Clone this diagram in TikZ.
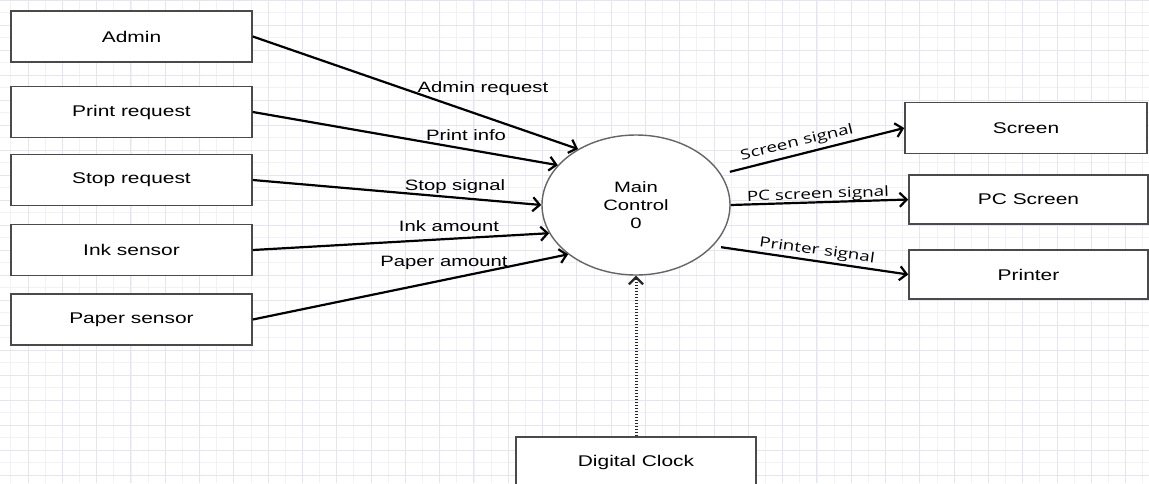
\documentclass[tikz,border=0pt]{standalone}
\usepackage{fontspec}
\setmainfont{Liberation Sans}[FakeStretch=1.35]
\newfontfamily\osans{Open Sans}[FakeStretch=1.35]
\usetikzlibrary{arrows.meta,shapes.geometric}
\definecolor{boxgray}{HTML}{4A4A4A}
\definecolor{gridmajor}{HTML}{E4E4F3}
\definecolor{gridminor}{HTML}{F1F1F9}
\begin{document}
\begin{tikzpicture}[x=1pt,y=-1pt,
  box/.style={draw=boxgray, line width=1.6pt, fill=white, minimum width=241pt, minimum height=51pt, inner sep=0pt, font=\fontsize{15.5}{18}\selectfont},
  flow/.style={draw=black, line width=2.2pt, -{Straight Barb[length=7pt,width=14pt]}},
  lbl/.style={font=\fontsize{15}{18}\selectfont, inner sep=0pt},
  rlbl/.style={font=\osans\fontsize{14}{17}\selectfont, inner sep=0pt}]
\fill[white] (0,0) rectangle (1149,483);
\useasboundingbox (0,0) rectangle (1149,483);
% grid
\foreach \i in {0,...,66} \draw[gridminor, line width=0.8pt] ({10.85+17.15*\i},0) -- ++(0,483);
\foreach \j in {0,...,38} \draw[gridminor, line width=0.8pt] (0,{12.5*\j}) -- ++(1149,0);
\foreach \i in {0,...,33} \draw[gridmajor, line width=1pt] ({28+34.3*\i},0) -- ++(0,483);
\foreach \j in {0,...,19} \draw[gridmajor, line width=1pt] (0,{25*\j}) -- ++(1149,0);
% nodes
\node[box] (admin) at (131.5,36.5) {Admin};
\node[box] (print) at (131.5,112) {Print request};
\node[box] (stop) at (131.5,180) {Stop request};
\node[box] (ink) at (131.5,250) {Ink sensor};
\node[box] (paper) at (131.5,319.5) {Paper sensor};
\node[box, minimum width=242pt] (screen) at (1026,128) {Screen};
\node[box, minimum width=239pt, minimum height=49pt] (pc) at (1028.5,199.5) {PC Screen};
\node[box, minimum width=239pt, minimum height=49pt] (printer) at (1028.5,274.5) {Printer};
\node[box, minimum width=240pt] (clock) at (636,462.5) {Digital Clock};
\node[ellipse, draw=boxgray!85, line width=1.4pt, fill=white, minimum width=188pt, minimum height=140pt, inner sep=0pt, align=center, font=\fontsize{15}{18}\selectfont] (main) at (636,205) {Main\\Control\\0};
% flows
\draw[flow] (admin.east) -- (main.136);
\draw[flow] (print.east) -- (main.153);
\draw[flow] (stop.east) -- (main.180);
\draw[flow] (ink.east) -- (main.198);
\draw[flow] (paper.east) -- (main.216);
\draw[flow, shorten <=9pt] (main.20) -- (screen.west);
\draw[flow] (main.east) -- (pc.west);
\draw[flow, shorten <=8pt] (main.-28) -- (printer.west);
\draw[flow, draw=black!85, line width=3pt, dash pattern=on 1.6pt off 1.4pt, -{Straight Barb[length=7pt,width=14pt,line width=2.2pt]}] (clock.north) -- (main.south);
% labels
\node[lbl] (l1) at (483,89) {Admin request};
\node[lbl] (l2) at (466,135) {Print info};
\node[lbl] (l3) at (455,187) {Stop signal};
\node[lbl] (l4) at (449,226) {Ink amount};
\node[lbl] (l5) at (444,263) {Paper amount};
\node[rlbl, rotate=13.5] (r1) at (797,143) {Screen signal};
\node[rlbl, rotate=2] (r2) at (818,195) {PC screen signal};
\node[rlbl, rotate=-8] (r3) at (817,251) {Printer signal};
\end{tikzpicture}
\end{document}
